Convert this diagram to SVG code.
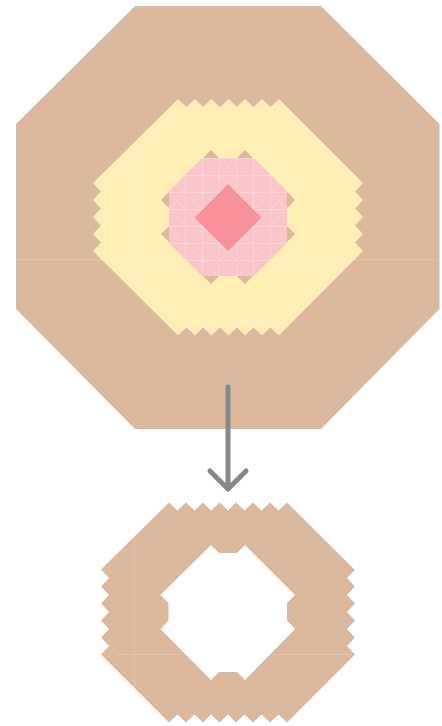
<svg xmlns="http://www.w3.org/2000/svg" width="442" height="726" viewBox="0 0 442 726">
<style>
.tan{fill:#dcb99c}
.yellow{fill:#ffeeb5;fill-rule:evenodd}
.pink{fill:#fac5c9}
.grid{fill:url(#cells)}
.dia{fill:#f6909b}
.seam{stroke:#fff;stroke-opacity:.14;stroke-width:1;fill:none}
.seam-soft{stroke:#fff;stroke-opacity:.14;stroke-width:1;fill:none}
.arrow{stroke:#87888c;stroke-width:5;stroke-linecap:round;stroke-linejoin:round;fill:none}
</style>
<defs>
<pattern id="cells" patternUnits="userSpaceOnUse" x="177" y="184" width="17" height="17">
<path d="M8.500 0V17M0 8.500H17" stroke="#fff" stroke-opacity=".26" stroke-width="1" fill="none"/>
<path d="M-1 -1L18 18M18 -1L-1 18" stroke="#fff" stroke-opacity=".17" stroke-width="1" fill="none"/>
</pattern>
</defs>
<rect width="442" height="726" fill="#fff"/>
<g id="outer-block">
<polygon class="tan" points="135,6 321,6 439.500,124 439.500,309 321,429 135,429 16,309 16,124"/>
<line class="seam" x1="16" y1="259.500" x2="439.500" y2="259.500"/>
</g>
<g id="ring-yellow">
<path class="yellow" d="M178 99L186.500 107L195 99L203 107L211.500 99L220 107L228.500 99L237 107L245 99L253.500 107L262 99L270.500 107L279 99L363 183L355 191.500L363 200L355 208.500L363 217L355 225.500L363 234L355 242.500L363 251L279 335.500L270.500 327.500L262 335.500L253.500 327.500L245 335.500L237 327.500L228.500 335.500L220 327.500L211.500 335.500L203 327.500L195 335.500L186.500 327.500L178 335.500L93 251L101 242.500L93 234L101 225.500L93 217L101 208.500L93 200L101 191.500L93 183Z M219 158L237 158L245 150L295 200L287 208L287 226L295 234L245 284L237 276L219 276L211 284L161 234L169 226L169 208L161 200L211 150Z"/>
<line class="seam-soft" x1="135.500" y1="142" x2="135.500" y2="293"/>
<line class="seam-soft" x1="101" y1="259.500" x2="355" y2="259.500"/>
</g>
<g id="core-pink">
<polygon class="pink" points="202,158 254,158 287,191 287,243 254,276 202,276 169,243 169,191"/>
<polygon class="grid" points="202,158 254,158 287,191 287,243 254,276 202,276 169,243 169,191"/>
</g>
<g id="core-diamond">
<polygon class="dia" points="228,184 261.500,217.500 228,251 194.500,217.500"/>
</g>
<g id="connectors">
<path class="arrow" d="M228 387V488M210 471L228 489L246 471"/>
</g>
<g id="result-ring">
<path class="tan" fill-rule="evenodd" d="M169 502.500L177.500 510.500L186 502.500L194.500 510.500L203 502.500L211 510.500L219.500 502.500L228 510.500L236 502.500L244.500 510.500L253 502.500L261.500 510.500L270 502.500L278.500 510.500L287 502.500L355 570L347 578L355 586.500L347 595L355 603.500L347 612L355 620.500L347 629L355 637.500L347 646L355 654.500L287 722.500L278.500 714.500L270 722.500L261.500 714.500L253 722.500L244.500 714.500L236 722.500L228 714.500L219.500 722.500L211 714.500L203 722.500L194.500 714.500L186 722.500L177.500 714.500L169 722.500L101 654.500L109 646L101 637.500L109 629L101 620.500L109 612L101 603.500L109 595L101 586.500L109 578L101 569.500Z M219 553L237 553L245 545L295 595L287 603L287 620.500L295 629L245 680L237 672L219 672L211 680L160.500 629L168.500 620.500L168.500 603L160.500 595L211 545Z"/>
<line class="seam" x1="134.500" y1="537" x2="134.500" y2="689"/>
<path class="seam" d="M110 646.500L117.500 654.500H352"/>
</g>
</svg>
